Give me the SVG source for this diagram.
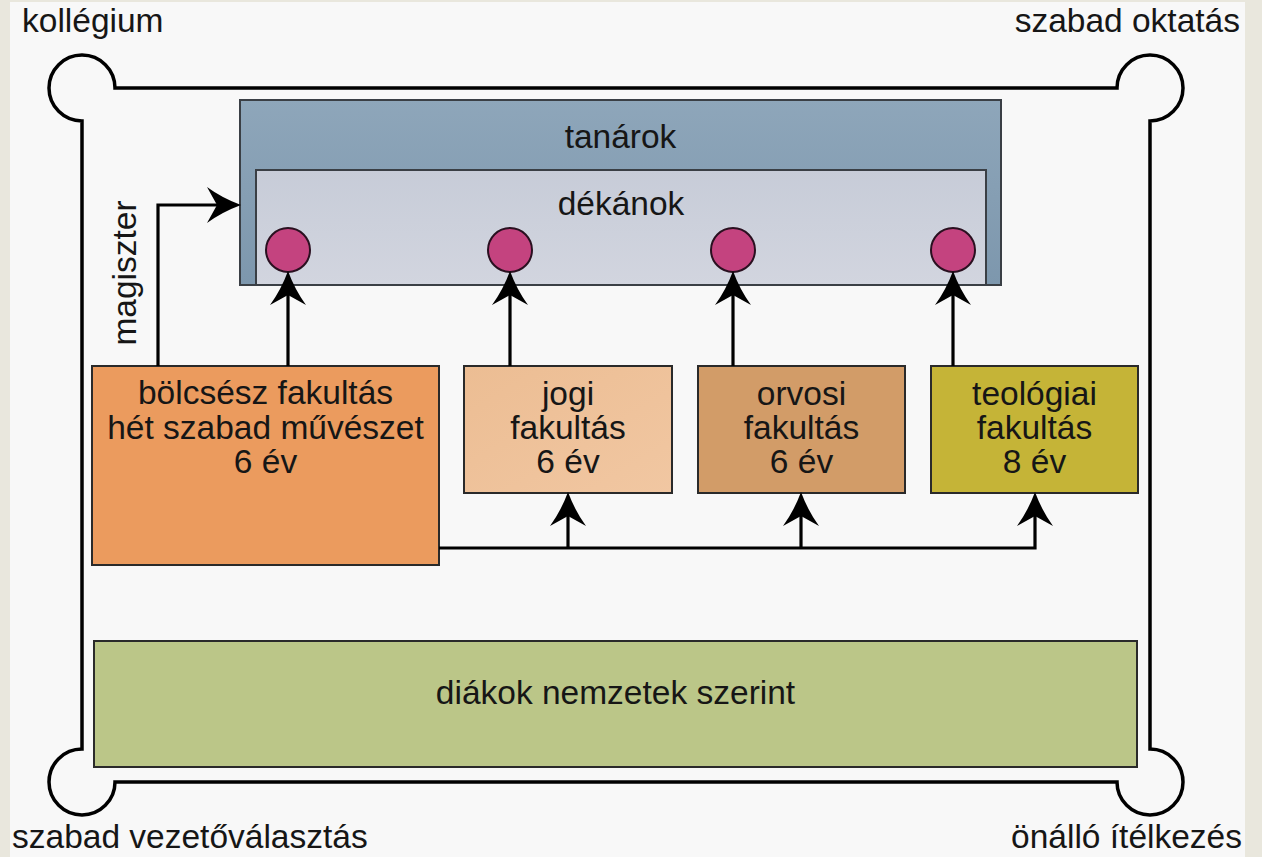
<svg xmlns="http://www.w3.org/2000/svg" width="1262" height="857" viewBox="0 0 1262 857">
<defs>
<style>
.t{font-family:"Liberation Sans",Arial,sans-serif;font-size:33.5px;fill:#161616}
.c{text-anchor:middle}
.box{stroke:#2a2a2a;stroke-width:2}
.con{fill:none;stroke:#000;stroke-width:3.2}
.dot{fill:#c4437f;stroke:#2a1020;stroke-width:2}
</style>
<linearGradient id="gT" x1="0" y1="0" x2="0" y2="1"><stop offset="0" stop-color="#8ea6ba"/><stop offset="1" stop-color="#7d97ad"/></linearGradient>
<linearGradient id="gD" x1="0" y1="0" x2="0" y2="1"><stop offset="0" stop-color="#c7ccd8"/><stop offset="1" stop-color="#d2d5df"/></linearGradient>
<linearGradient id="gJ" x1="0" y1="0" x2="1" y2="1"><stop offset="0" stop-color="#ecbd93"/><stop offset="1" stop-color="#f1c7a2"/></linearGradient>
<marker id="ah" markerUnits="userSpaceOnUse" markerWidth="36" markerHeight="40" viewBox="0 0 36 40" refX="29" refY="20" orient="auto">
<path d="M35,20 Q16,13 1,2 L11,20 L1,38 Q16,27 35,20 Z" fill="#000"/>
</marker>
</defs>
<rect x="0" y="0" width="1262" height="857" fill="#e9e7dd"/>
<rect x="10" y="2" width="1235" height="855" fill="#f8f8f8"/>
<g id="frame">
<path d="M115,88 H1117 A33,33 0 1 1 1150,121 V749 A33,33 0 1 1 1117,782 H115 A33,33 0 1 1 82,749 V121 A33,33 0 1 1 115,88 Z" fill="none" stroke="#000" stroke-width="3.5"/>
</g>
<g id="corner-labels">
<text class="t" x="22" y="32">kollégium</text>
<text class="t" x="1240" y="32" text-anchor="end">szabad oktatás</text>
<text class="t" x="12" y="848">szabad vezetőválasztás</text>
<text class="t" x="1242" y="848" text-anchor="end">önálló ítélkezés</text>
</g>
<g id="tanarok">
<rect x="240" y="100" width="761" height="185" fill="url(#gT)" stroke="#3a3f45" stroke-width="2"/>
<text class="t c" x="620.5" y="148">tanárok</text>
</g>
<g id="dekanok">
<rect x="256" y="170" width="730" height="115" fill="url(#gD)" stroke="#3a3f45" stroke-width="2"/>
<text class="t c" x="621" y="215">dékánok</text>
</g>
<g id="dean1"><circle class="dot" cx="288" cy="250" r="22"/></g>
<g id="dean2"><circle class="dot" cx="510" cy="250" r="22"/></g>
<g id="dean3"><circle class="dot" cx="733" cy="250" r="22"/></g>
<g id="dean4"><circle class="dot" cx="953" cy="250" r="22"/></g>
<g id="bolcsesz">
<rect class="box" x="92" y="366" width="347" height="199" fill="#eb9b5e"/>
<text class="t c" x="265.5" y="404">bölcsész fakultás</text>
<text class="t c" x="265.5" y="439">hét szabad művészet</text>
<text class="t c" x="265.5" y="473">6 év</text>
</g>
<g id="jogi">
<rect class="box" x="464" y="366" width="208" height="127" fill="url(#gJ)"/>
<text class="t c" x="568" y="405">jogi</text>
<text class="t c" x="568" y="439">fakultás</text>
<text class="t c" x="568" y="473">6 év</text>
</g>
<g id="orvosi">
<rect class="box" x="698" y="366" width="207" height="127" fill="#d29c68"/>
<text class="t c" x="801.5" y="405">orvosi</text>
<text class="t c" x="801.5" y="439">fakultás</text>
<text class="t c" x="801.5" y="473">6 év</text>
</g>
<g id="teologiai">
<rect class="box" x="931" y="366" width="207" height="127" fill="#c5b437"/>
<text class="t c" x="1034.5" y="405">teológiai</text>
<text class="t c" x="1034.5" y="439">fakultás</text>
<text class="t c" x="1034.5" y="473">8 év</text>
</g>
<g id="diakok">
<rect class="box" x="94" y="641" width="1043" height="126" fill="#bbc688"/>
<text class="t c" x="615.5" y="704">diákok nemzetek szerint</text>
</g>
<g id="connectors">
<path class="con" d="M158,366 V205 H235" marker-end="url(#ah)"/>
<path class="con" d="M288,366 V277" marker-end="url(#ah)"/>
<path class="con" d="M510,366 V277" marker-end="url(#ah)"/>
<path class="con" d="M733,366 V277" marker-end="url(#ah)"/>
<path class="con" d="M953,366 V277" marker-end="url(#ah)"/>
<path class="con" d="M439,548 H1035 V498" marker-end="url(#ah)"/>
<path class="con" d="M568,548 V498" marker-end="url(#ah)"/>
<path class="con" d="M801,548 V498" marker-end="url(#ah)"/>
<text class="t c" transform="translate(136,273) rotate(-90)" x="0" y="0">magiszter</text>
</g>
</svg>
